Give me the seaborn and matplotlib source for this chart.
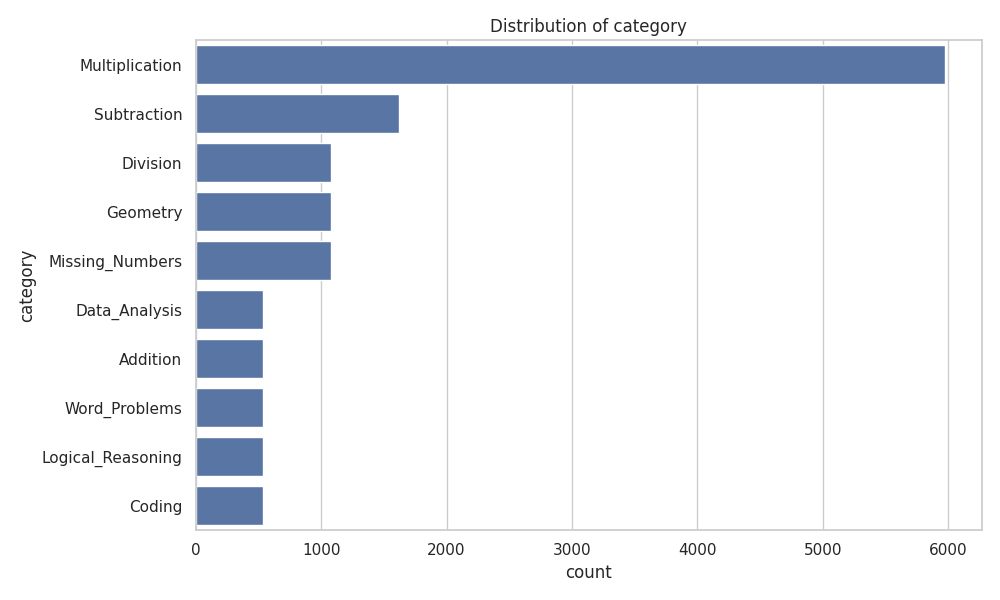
import matplotlib
matplotlib.use("Agg")
import matplotlib.pyplot as plt
import seaborn as sns
import pandas as pd

categories = ["Multiplication", "Subtraction", "Division", "Geometry", "Missing_Numbers",
              "Data_Analysis", "Addition", "Word_Problems", "Logical_Reasoning", "Coding"]
counts = [5970, 1620, 1080, 1080, 1080, 540, 540, 540, 540, 540]

df = pd.DataFrame({"category": categories, "count": counts})

sns.set_theme(style="whitegrid")
fig, ax = plt.subplots(figsize=(10, 6), dpi=100)
sns.barplot(data=df, x="count", y="category", order=categories, color="#4c72b0", ax=ax)
ax.set_title("Distribution of category")
ax.set_xlabel("count")
ax.set_ylabel("category")
plt.tight_layout()
plt.savefig("out.png", dpi=100)
